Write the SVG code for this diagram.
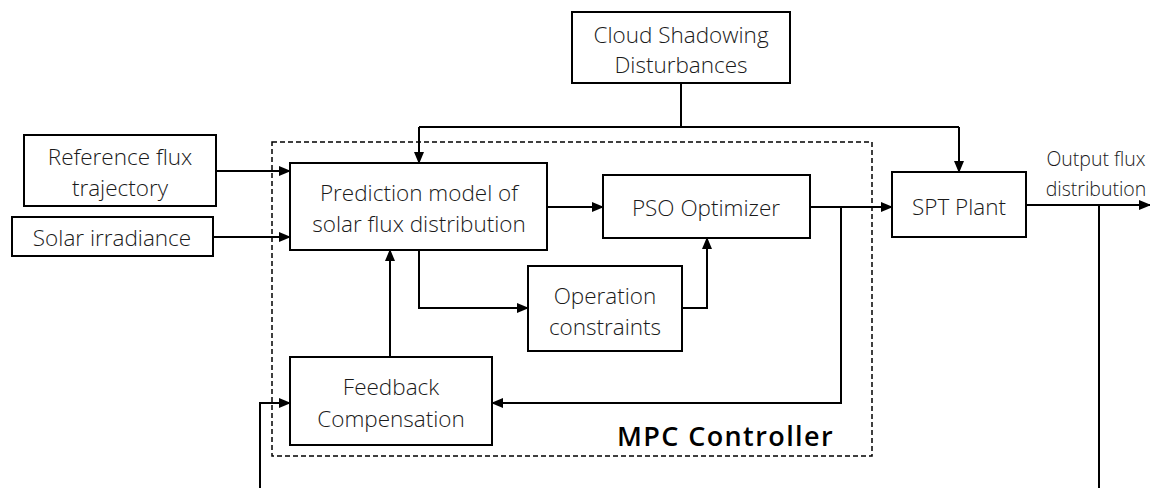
<svg xmlns="http://www.w3.org/2000/svg" width="1150" height="488" viewBox="0 0 1150 488">
<defs>
<marker id="ah" markerWidth="12" markerHeight="10" refX="11" refY="5" orient="auto" markerUnits="userSpaceOnUse">
<path d="M0,0 L12,5 L0,10 Z" fill="#000"/>
</marker>
<style>
.box{fill:#fff;stroke:#000;stroke-width:2}
.t{font-family:"Open Sans","Liberation Sans",sans-serif;font-size:22.5px;font-weight:300;fill:#1a1a1a;text-anchor:middle;dominant-baseline:central}
.c{fill:none;stroke:#000;stroke-width:2}
</style>
</defs>
<rect width="1150" height="488" fill="#fff"/>
<g id="mpc">
<rect x="272" y="142" width="600" height="314" fill="none" stroke="#000" stroke-width="1.5" stroke-dasharray="5,3"/>
<text x="834" y="446" font-family="'Open Sans','Liberation Sans',sans-serif" font-size="27" font-weight="600" letter-spacing="1.4" text-anchor="end" fill="#000">MPC Controller</text>
</g>
<g id="connectors">
<path class="c" d="M681,83 V127"/>
<path class="c" d="M419,127 H959"/>
<path class="c" d="M419,127 V163" marker-end="url(#ah)"/>
<path class="c" d="M959,127 V172" marker-end="url(#ah)"/>
<path class="c" d="M216,171 H290" marker-end="url(#ah)"/>
<path class="c" d="M213,237 H290" marker-end="url(#ah)"/>
<path class="c" d="M547,207 H603" marker-end="url(#ah)"/>
<path class="c" d="M810,207 H892" marker-end="url(#ah)"/>
<path class="c" d="M841,207 V403 H492" marker-end="url(#ah)"/>
<path class="c" d="M419,250 V308 H528" marker-end="url(#ah)"/>
<path class="c" d="M682,308 H707 V238" marker-end="url(#ah)"/>
<path class="c" d="M390,357 V250" marker-end="url(#ah)"/>
<path class="c" d="M1026,205 H1150" marker-end="url(#ah)"/>
<path class="c" d="M1099,205 V488"/>
<path class="c" d="M260,488 V403 H290" marker-end="url(#ah)"/>
</g>
<g id="cloud">
<rect class="box" x="572" y="12" width="218" height="71"/>
<text class="t" x="681" y="34">Cloud Shadowing</text>
<text class="t" x="681" y="64">Disturbances</text>
</g>
<g id="ref">
<rect class="box" x="24" y="135" width="192" height="71"/>
<text class="t" x="120" y="156">Reference flux</text>
<text class="t" x="120" y="187">trajectory</text>
</g>
<g id="solar">
<rect class="box" x="12" y="217" width="201" height="39"/>
<text class="t" x="112" y="237">Solar irradiance</text>
</g>
<g id="prediction">
<rect class="box" x="290" y="163" width="257" height="87"/>
<text class="t" x="419" y="192">Prediction model of</text>
<text class="t" x="419" y="223">solar flux distribution</text>
</g>
<g id="pso">
<rect class="box" x="603" y="175" width="207" height="63"/>
<text class="t" x="706" y="207">PSO Optimizer</text>
</g>
<g id="constraints">
<rect class="box" x="528" y="266" width="154" height="85"/>
<text class="t" x="605" y="295">Operation</text>
<text class="t" x="605" y="326">constraints</text>
</g>
<g id="feedback">
<rect class="box" x="290" y="357" width="202" height="88"/>
<text class="t" x="391" y="386">Feedback</text>
<text class="t" x="391" y="418">Compensation</text>
</g>
<g id="spt">
<rect class="box" x="892" y="172" width="134" height="65"/>
<text class="t" x="959" y="206">SPT Plant</text>
</g>
<g id="output">
<text class="t" x="1096" y="158" style="font-size:19.5px">Output flux</text>
<text class="t" x="1096" y="188" style="font-size:19.5px">distribution</text>
</g>
</svg>
